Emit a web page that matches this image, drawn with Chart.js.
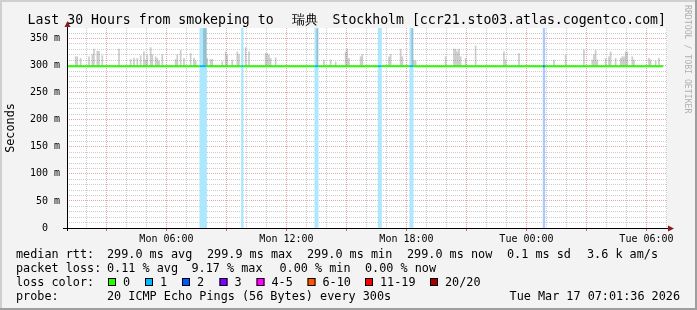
<!DOCTYPE html>
<html>
<head>
<meta charset="utf-8">
<script src="https://cdn.jsdelivr.net/npm/chart.js@4.4.0/dist/chart.umd.min.js"></script>
<style>
  html, body { margin: 0; padding: 0; background: #f3f3f3; }
  canvas { display: block; }
</style>
</head>
<body>
<canvas id="c" width="697" height="310"></canvas>
<script>
// ---- values ----
var rangeStart = 'Mon 01:01:36';
var rangeEnd = 'Tue 07:01:36';
var medianRtt = 299.0;
var medianEnd = 'Tue 06:50';

// start of each 5 min step that shows smoke above the median, and its top (ms)
var smokeTimes = [
  'Mon 01:25', 'Mon 01:30', 'Mon 01:40', 'Mon 02:05', 'Mon 02:15', 'Mon 02:20', 'Mon 02:30', 'Mon 02:35',
  'Mon 02:45', 'Mon 03:35', 'Mon 04:10', 'Mon 04:20', 'Mon 04:30', 'Mon 04:40', 'Mon 04:50', 'Mon 04:55',
  'Mon 05:00', 'Mon 05:10', 'Mon 05:15', 'Mon 05:25', 'Mon 05:30', 'Mon 05:35', 'Mon 05:45', 'Mon 06:25',
  'Mon 06:30', 'Mon 06:40', 'Mon 06:50', 'Mon 07:10', 'Mon 07:20', 'Mon 07:25', 'Mon 07:50', 'Mon 07:55',
  'Mon 08:00', 'Mon 08:10', 'Mon 08:15', 'Mon 08:45', 'Mon 08:55', 'Mon 09:00', 'Mon 09:15', 'Mon 09:30',
  'Mon 09:35', 'Mon 09:55', 'Mon 10:05', 'Mon 10:55', 'Mon 11:00', 'Mon 11:05', 'Mon 11:10', 'Mon 11:25',
  'Mon 13:30', 'Mon 13:50', 'Mon 14:10', 'Mon 14:25', 'Mon 14:55', 'Mon 15:00', 'Mon 15:05', 'Mon 15:40',
  'Mon 15:45', 'Mon 17:05', 'Mon 17:10', 'Mon 17:40', 'Mon 17:45', 'Mon 18:15', 'Mon 18:20', 'Mon 18:25',
  'Mon 19:55', 'Mon 20:20', 'Mon 20:25', 'Mon 20:30', 'Mon 20:35', 'Mon 20:40', 'Mon 20:55', 'Mon 21:25',
  'Mon 22:50', 'Mon 22:55', 'Mon 23:35', 'Tue 01:20', 'Tue 01:55', 'Tue 02:50', 'Tue 03:15', 'Tue 03:20',
  'Tue 03:25', 'Tue 03:30', 'Tue 03:55', 'Tue 04:05', 'Tue 04:10', 'Tue 04:25', 'Tue 04:40', 'Tue 04:45',
  'Tue 04:50', 'Tue 04:55', 'Tue 05:00', 'Tue 05:15', 'Tue 05:20', 'Tue 06:05', 'Tue 06:10', 'Tue 06:25',
  'Tue 06:35'
];
var smokeTops = [
  317, 317, 314, 317, 321, 331, 327, 327,
  319, 331, 312, 314, 314, 319, 326, 311,
  320, 334, 321, 317, 314, 309, 321, 312,
  321, 329, 314, 323, 314, 309, 369, 369,
  314, 312, 312, 308, 326, 320, 311, 326,
  321, 334, 326, 323, 323, 320, 314, 315,
  369, 311, 311, 307, 326, 331, 314, 317,
  321, 317, 321, 331, 317, 369, 311, 309,
  317, 331, 331, 326, 331, 317, 314, 337,
  326, 311, 323, 311, 320, 330, 311, 321,
  329, 311, 314, 317, 326, 314, 314, 317,
  317, 326, 326, 317, 311, 314, 311, 309,
  314
];

// steps with packet loss and how many of the 20 pings were lost
var lossTimes = ['Mon 07:40', 'Mon 07:45', 'Mon 07:50', 'Mon 07:55', 'Mon 09:45', 'Mon 13:25', 'Mon 13:30',
                 'Mon 16:35', 'Mon 16:40', 'Mon 18:10', 'Mon 18:15', 'Tue 00:50'];
var lossPings = [1, 1, 1, 1, 1, 1, 1, 1, 1, 1, 1, 2];

var lossColors = ['#26ff00', '#00b8ff', '#0059ff', '#7e00ff', '#ff00ff', '#ff5500', '#ff0000', '#a10000'];
var lossLabels = ['0', '1', '2', '3', '4-5', '6-10', '11-19', '20/20'];

var yLabelValues = [0, 50, 100, 150, 200, 250, 300, 350];
var yLabelTexts = ['0  ', '50 m', '100 m', '150 m', '200 m', '250 m', '300 m', '350 m'];
var xLabelTimes = ['Mon 06:00', 'Mon 12:00', 'Mon 18:00', 'Tue 00:00', 'Tue 06:00'];

var titleLeft = 'Last 30 Hours from smokeping to';
var titleCjk = '瑞典';
var titleRight = 'Stockholm [ccr21.sto03.atlas.cogentco.com]';
var rttStats = ['299.0 ms avg', '299.9 ms max', '299.0 ms min', '299.0 ms now', '0.1 ms sd', '3.6 k am/s'];
var lossStats = ['0.11 % avg', '9.17 % max', '0.00 % min', '0.00 % now'];
var probeText = '20 ICMP Echo Pings (56 Bytes) every 300s';
var stampText = 'Tue Mar 17 07:01:36 2026';

// ---- helpers ----
var DAYS = { Mon: 0, Tue: 1 };
function hours(s) {
  var p = s.split(' '), t = p[1].split(':');
  return DAYS[p[0]] * 24 + (+t[0]) + (+t[1]) / 60 + (+(t[2] || 0)) / 3600;
}
function tint(hex, a) {
  var n = parseInt(hex.slice(1), 16);
  var r = n >> 16, g = (n >> 8) & 255, b = n & 255;
  return 'rgb(' + Math.round(255 - a * (255 - r)) + ',' + Math.round(255 - a * (255 - g)) + ',' + Math.round(255 - a * (255 - b)) + ')';
}
var STEP = 5 / 60;
var xMin = hours(rangeStart), xMax = hours(rangeEnd);
var yMax = 369.5;
var MONO = "'DejaVu Sans Mono', monospace";

var bandData = lossTimes.map(function (t, i) {
  return { x: hours(t) + STEP / 2, y: [0, yMax], pings: lossPings[i] };
});
var smokeData = smokeTimes.map(function (t, i) {
  return { x: hours(t) + STEP / 2, y: [medianRtt, smokeTops[i]] };
});
var medianX = [xMin, hours(medianEnd)];
lossTimes.forEach(function (t) { medianX.push(hours(t), hours(t) + STEP); });
medianX = medianX.sort(function (a, b) { return a - b; }).filter(function (v, i, a) { return i === 0 || Math.abs(v - a[i - 1]) > 1e-6; });
var medianData = medianX.map(function (x) { return { x: x, y: medianRtt }; });

function lossAt(x) {
  for (var i = 0; i < lossTimes.length; i++) {
    if (Math.abs(hours(lossTimes[i]) - x) < 1e-6) return lossPings[i];
  }
  return 0;
}

var hourTicks = [];
for (var h = Math.ceil(xMin); h <= xMax; h++) hourTicks.push(h);
var yTicks = [];
for (var v = 0; v <= yMax; v += 10) yTicks.push(v);

var frame = {
  id: 'frame',
  beforeDraw: function (chart) {
    var ctx = chart.ctx, a = chart.chartArea;
    ctx.save();
    ctx.fillStyle = '#f3f3f3';
    ctx.fillRect(0, 0, 697, 310);
    ctx.fillStyle = '#cfcfcf';
    ctx.fillRect(0, 0, 697, 2);
    ctx.fillRect(0, 0, 2, 310);
    ctx.fillStyle = '#9e9e9e';
    ctx.fillRect(0, 308, 697, 2);
    ctx.fillRect(695, 0, 2, 310);
    ctx.fillStyle = '#ffffff';
    ctx.fillRect(a.left, a.top, a.right - a.left, a.bottom - a.top);
    ctx.restore();
  },
  afterDraw: function (chart) {
    var ctx = chart.ctx, a = chart.chartArea;
    var x0 = Math.round(a.left) + 0.5, y0 = Math.round(a.bottom) + 0.5;
    ctx.save();
    // axes
    ctx.strokeStyle = '#000000';
    ctx.lineWidth = 1;
    ctx.beginPath();
    ctx.moveTo(a.left - 4, y0); ctx.lineTo(a.right + 2, y0);
    ctx.moveTo(x0, a.bottom + 3); ctx.lineTo(x0, a.top - 3);
    ctx.stroke();
    ctx.fillStyle = '#8b1a1a';
    ctx.beginPath();
    ctx.moveTo(x0 - 3, a.top - 1); ctx.lineTo(x0 + 3, a.top - 1); ctx.lineTo(x0, a.top - 7); ctx.closePath();
    ctx.fill();
    ctx.beginPath();
    ctx.moveTo(a.right + 1, y0 - 3); ctx.lineTo(a.right + 1, y0 + 3); ctx.lineTo(a.right + 7, y0); ctx.closePath();
    ctx.fill();

    // title
    ctx.fillStyle = '#000000';
    ctx.font = '13.2px ' + MONO;
    ctx.textBaseline = 'alphabetic';
    ctx.textAlign = 'left';
    ctx.fillText(titleLeft, 27.5, 24);
    ctx.textAlign = 'center';
    ctx.font = '13px ' + MONO;
    ctx.fillText(titleCjk, 305, 24);
    ctx.font = '13.2px ' + MONO;
    ctx.textAlign = 'right';
    ctx.fillText(titleRight, 666, 24);

    // vertical label
    ctx.save();
    ctx.translate(14, (a.top + a.bottom) / 2);
    ctx.rotate(-Math.PI / 2);
    ctx.textAlign = 'center';
    ctx.font = '11.8px ' + MONO;
    ctx.fillText('Seconds', 0, 0);
    ctx.restore();

    // watermark
    ctx.save();
    ctx.translate(685, 5);
    ctx.rotate(Math.PI / 2);
    ctx.textAlign = 'left';
    ctx.fillStyle = '#b0b0b0';
    ctx.font = '8.2px ' + MONO;
    ctx.fillText('RRDTOOL / TOBI OETIKER', 0, 0);
    ctx.restore();

    // legend block
    ctx.fillStyle = '#000000';
    ctx.textAlign = 'left';
    ctx.font = '11.8px ' + MONO;
    var rttX = [107, 207, 307, 407, 507, 587];
    ctx.fillText('median rtt:', 16, 258.3);
    rttStats.forEach(function (s, i) { ctx.fillText(s, rttX[i], 258.3); });
    var lossX = [107, 191.5, 279.5, 365];
    ctx.fillText('packet loss:', 16, 272.3);
    lossStats.forEach(function (s, i) { ctx.fillText(s, lossX[i], 272.3); });
    var swX = [108, 145, 182, 219.5, 256.5, 307.5, 365, 430];
    ctx.fillText('loss color:', 16, 286.3);
    lossLabels.forEach(function (s, i) {
      ctx.fillStyle = lossColors[i];
      ctx.fillRect(swX[i], 278, 8, 8);
      ctx.strokeStyle = '#000000';
      ctx.strokeRect(swX[i] + 0.5, 278.5, 7, 7);
      ctx.fillStyle = '#000000';
      ctx.fillText(s, swX[i] + 15, 286.3);
    });
    ctx.fillText('probe:', 16, 300.3);
    ctx.fillText(probeText, 107, 300.3);
    ctx.textAlign = 'right';
    ctx.fillText(stampText, 680, 300.3);
    ctx.restore();
  }
};

new Chart(document.getElementById('c'), {
  type: 'bar',
  data: {
    datasets: [
      {
        type: 'line',
        data: medianData,
        borderWidth: 2,
        pointRadius: 0,
        tension: 0,
        borderColor: lossColors[0],
        segment: {
          borderColor: function (ctx) {
            var p = lossAt(ctx.p0.parsed.x);
            return p ? lossColors[p] : lossColors[0];
          }
        },
        order: 1
      },
      {
        data: smokeData,
        backgroundColor: 'rgba(120,120,120,0.38)',
        barPercentage: 1,
        categoryPercentage: 1,
        grouped: false,
        inflateAmount: 0,
        order: 2
      },
      {
        data: bandData,
        backgroundColor: function (ctx) {
          var p = ctx.raw ? ctx.raw.pings : 1;
          return tint(lossColors[p], 0.33);
        },
        barPercentage: 1,
        categoryPercentage: 1,
        grouped: false,
        order: 3
      }
    ]
  },
  options: {
    responsive: false,
    devicePixelRatio: 1,
    animation: false,
    layout: { padding: { top: 28, right: 30, bottom: 0, left: 0 } },
    plugins: { legend: { display: false }, tooltip: { enabled: false }, title: { display: false } },
    scales: {
      x: {
        type: 'linear',
        offset: false,
        min: xMin,
        max: xMax,
        afterBuildTicks: function (s) { s.ticks = hourTicks.map(function (v) { return { value: v }; }); },
        afterFit: function (s) { s.height = 82; },
        border: { display: false, dash: [1, 1] },
        grid: {
          offset: false,
          color: function (c) { return c.tick && c.tick.value % 3 === 0 ? '#e8a4a4' : '#cccccc'; },
          tickColor: function (c) { return c.tick && c.tick.value % 3 === 0 ? '#b07070' : 'rgba(0,0,0,0)'; },
          tickLength: 3,
          lineWidth: 1
        },
        ticks: {
          autoSkip: false,
          maxRotation: 0,
          padding: 2,
          color: '#000000',
          font: { family: MONO, size: 10 },
          callback: function (v) {
            for (var i = 0; i < xLabelTimes.length; i++) {
              if (Math.abs(hours(xLabelTimes[i]) - v) < 1e-6) return xLabelTimes[i];
            }
            return '';
          }
        }
      },
      y: {
        min: 0,
        max: yMax,
        afterBuildTicks: function (s) { s.ticks = yTicks.map(function (v) { return { value: v }; }); },
        afterFit: function (s) { s.width = 67; },
        border: { display: false, dash: [1, 1] },
        grid: {
          color: function (c) { return c.tick && c.tick.value % 50 === 0 ? '#e8a4a4' : '#cccccc'; },
          drawTicks: false,
          lineWidth: 1
        },
        ticks: {
          autoSkip: false,
          padding: 7,
          color: '#000000',
          font: { family: MONO, size: 10 },
          callback: function (v) {
            var i = yLabelValues.indexOf(v);
            return i >= 0 ? yLabelTexts[i] : '';
          }
        }
      }
    }
  },
  plugins: [frame]
});
</script>
</body>
</html>
